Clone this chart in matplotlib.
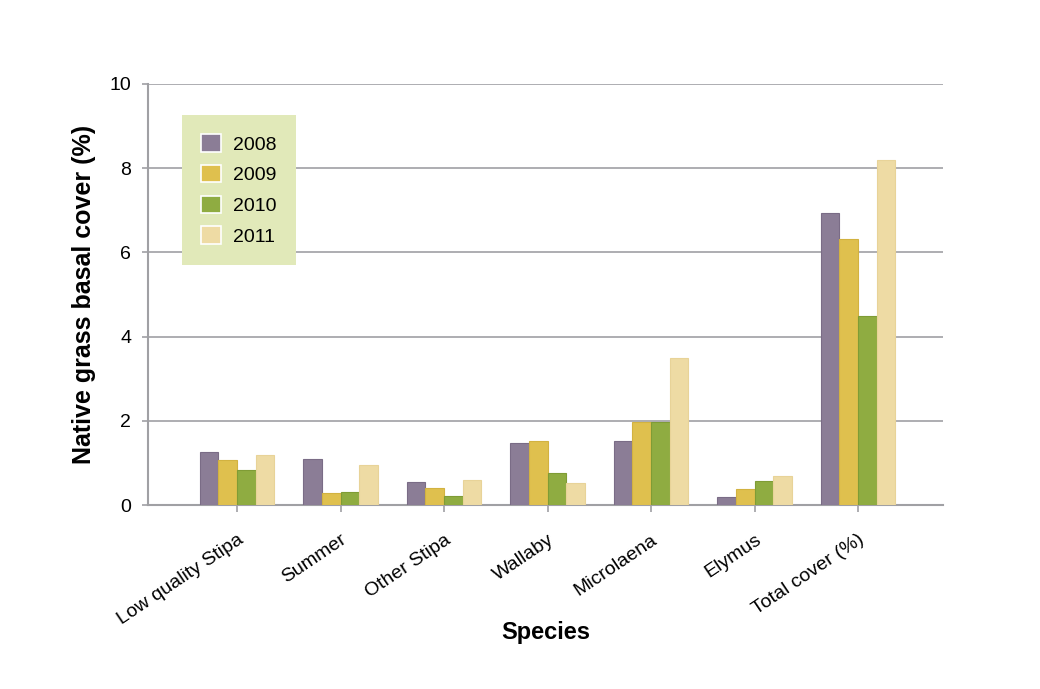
import numpy as np
import matplotlib.pyplot as plt
from matplotlib.patches import Patch

plt.rcParams["font.family"] = ["Liberation Sans", "DejaVu Sans"]

# %% data
species = ["Low quality Stipa", "Summer", "Other Stipa", "Wallaby",
           "Microlaena", "Elymus", "Total cover (%)"]
years = ["2008", "2009", "2010", "2011"]
cover_2008 = [1.26, 1.09, 0.54, 1.47, 1.51, 0.19, 6.94]
cover_2009 = [1.06, 0.28, 0.41, 1.51, 1.98, 0.39, 6.32]
cover_2010 = [0.82, 0.31, 0.21, 0.75, 1.98, 0.58, 4.49]
cover_2011 = [1.19, 0.95, 0.60, 0.53, 3.49, 0.69, 8.19]

colors = ["#8b7d96", "#dfc04e", "#8fac41", "#eedba4"]
edges = ["#7a6c86", "#d2b240", "#7f9c35", "#e8d398"]

# %% plotting
fig = plt.figure(figsize=(10.4, 6.89), dpi=100)
ax = fig.add_axes([148 / 1040, 1 - 505 / 689, 795 / 1040, 421 / 689])

x = np.arange(len(species))
width = 0.18
for i, vals in enumerate([cover_2008, cover_2009, cover_2010, cover_2011]):
    ax.bar(x + (i - 1.5) * width, vals, width, color=colors[i],
           edgecolor=edges[i], linewidth=0.8, zorder=3)

ax.set_xlim(-0.86, 6.82)
ax.set_ylim(0, 10)
ax.set_yticks([0, 2, 4, 6, 8, 10])
ax.yaxis.grid(True, color="#a0a0a4", linewidth=1.2, zorder=0)
ax.set_xticks(x)
ax.set_xticklabels(species, rotation=34, ha="right", rotation_mode="anchor",
                   fontsize=14)
ax.tick_params(axis="y", labelsize=14, length=4, color="#a0a0a4", width=1.2,
               pad=8)
ax.tick_params(axis="x", length=5, color="#a0a0a4", width=1.2, pad=14)

for side in ["top", "right"]:
    ax.spines[side].set_visible(False)
for side in ["left", "bottom"]:
    ax.spines[side].set_color("#a0a0a4")
    ax.spines[side].set_linewidth(1.5)

ax.set_ylabel("Native grass basal cover (%)", fontsize=18, fontweight="bold",
              labelpad=10)
ax.set_xlabel("Species", fontsize=17, fontweight="bold", labelpad=-5)

handles = [Patch(facecolor=c, edgecolor="white", linewidth=1.2) for c in colors]
leg = ax.legend(handles, years, loc="upper left",
                bbox_to_anchor=(34 / 795, 1 - 31 / 421), fontsize=14,
                frameon=True, fancybox=False, borderpad=1.0,
                labelspacing=0.58, handlelength=1.0, handleheight=1.0,
                handletextpad=0.6, borderaxespad=0)
leg.get_frame().set_facecolor("#e1e9b9")
leg.get_frame().set_edgecolor("none")
leg.get_frame().set_alpha(1)

fig.savefig("out.png", dpi=100)
